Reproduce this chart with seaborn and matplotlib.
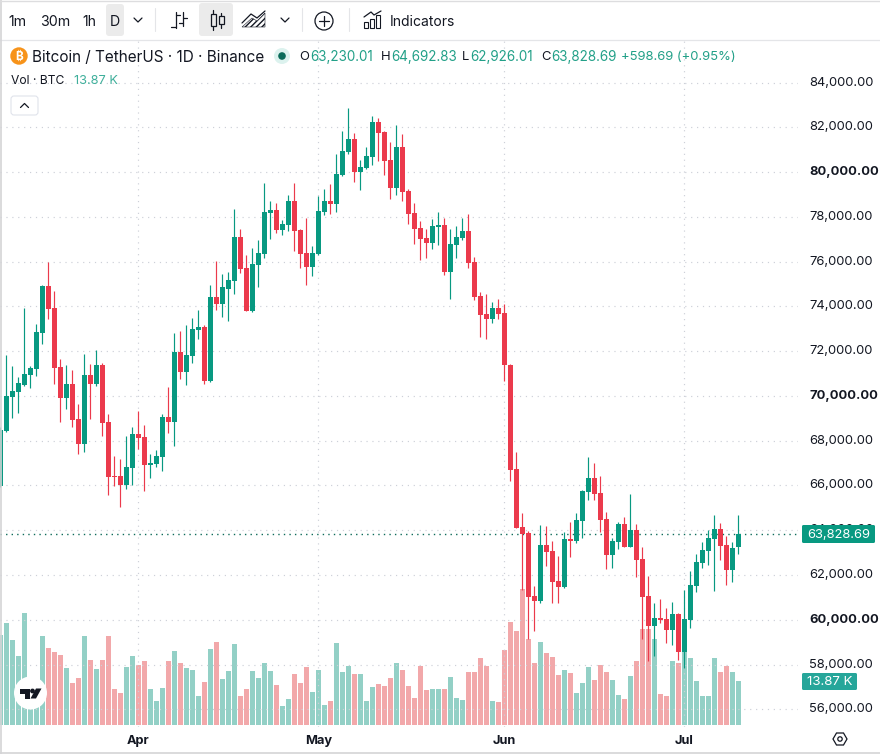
import pandas as pd
import seaborn as sns
import matplotlib.pyplot as plt
from matplotlib.patches import Circle, FancyBboxPatch, Polygon, Rectangle

UP = "#089981"
DOWN = "#EB3A4C"
VOL_UP = "#29A38F"
VOL_DOWN = "#E75357"
TEXT = "#131722"
SOFT_GREEN = "#22A088"

opens = [
    65990, 68430, 69940, 70170, 70510, 70930, 71190, 72800, 74900, 73920,
    71280, 69900, 70520, 68960, 67850, 70930, 70520, 71370, 68830, 66420,
    66420, 66020, 66780, 68290, 68160, 66910, 66950, 67270, 69050, 68830,
    71950, 71060, 71770, 72940, 73060, 70690, 74440, 74090, 74800, 75140,
    77110, 75720, 73800, 75860, 76350, 78180, 78310, 77420, 77640, 78710,
    77420, 76390, 75770, 76350, 78220, 78710, 78580, 79870, 80900, 81480,
    80010, 80190, 80680, 82240, 81790, 80540, 79290, 81120, 79160, 78180,
    77510, 77060, 76840, 77550, 77640, 75540, 76750, 77060, 77370, 75990,
    74470, 73670, 73440, 73940, 73710, 71380, 66740, 64150, 63880, 61070,
    60850, 63350, 63080, 61740, 61470, 63620, 63530, 64420, 65710, 66340,
    65670, 64510, 62900, 63480, 64290, 63260, 64020, 62720, 61070, 59740,
    60100, 60050, 59560, 60270, 58580, 60010, 61520, 62550, 63090, 63620,
    64070, 63350, 62240, 63230.01,
]
closes = [
    68470, 69990, 70210, 70570, 70970, 71240, 72850, 74900, 73870, 71240,
    69900, 70520, 68920, 67850, 70930, 70520, 71370, 68780, 66370, 66370,
    66020, 66820, 68290, 68110, 66910, 67000, 67310, 69050, 68830, 71950,
    71060, 71820, 72980, 73070, 70690, 74440, 74090, 74850, 75160, 77110,
    75680, 73800, 75900, 76390, 78220, 78310, 77420, 77690, 78710, 77370,
    76350, 75770, 76390, 78270, 78710, 78580, 79920, 80940, 81480, 80010,
    80230, 80720, 82240, 81750, 80500, 79290, 81120, 79110, 78130, 77460,
    77020, 76840, 77600, 77640, 75540, 76790, 77110, 77370, 75940, 74430,
    73620, 73440, 73940, 73670, 71390, 66700, 64110, 63840, 61030, 60850,
    63350, 63040, 61700, 61470, 63620, 63530, 64470, 65760, 66340, 65630,
    64470, 62900, 63530, 64290, 63260, 64020, 62680, 61030, 59730, 60100,
    60010, 59560, 60270, 58580, 60050, 61570, 62600, 63130, 63670, 64070,
    63310, 62240, 63220, 63828.69,
]
highs = [
    68600, 71820, 71340, 70840, 73920, 71330, 73200, 74940, 76000, 74680,
    71640, 71370, 71150, 69630, 71860, 71420, 72040, 71460, 69190, 67310,
    67180, 68200, 68610, 69320, 68690, 67400, 67580, 69190, 70390, 72800,
    72890, 73160, 73470, 73830, 73150, 74940, 76050, 75430, 75560, 78360,
    77460, 76300, 76610, 76970, 79520, 78710, 78620, 77860, 78980, 79520,
    77460, 77950, 76700, 78940, 79250, 79470, 80810, 81840, 82860, 81750,
    80540, 81120, 82510, 82420, 81840, 81350, 82100, 81700, 79250, 78620,
    77820, 77460, 77910, 78220, 77950, 77460, 77600, 77950, 78130, 76210,
    74650, 74560, 74200, 74340, 74110, 71430, 67500, 64780, 63970, 61520,
    64240, 64200, 63530, 62860, 63930, 64380, 64780, 65800, 67280, 67010,
    66430, 64820, 63660, 64380, 64600, 65630, 64290, 63260, 61970, 60770,
    60940, 60540, 60810, 60290, 61350, 62190, 62950, 63490, 64020, 64690,
    64340, 63760, 63490, 64692.83,
]
lows = [
    65950, 68400, 69010, 69230, 70440, 70350, 70880, 72310, 73430, 70520,
    68830, 69410, 68610, 67400, 67500, 68960, 70440, 68200, 65570, 65970,
    65030, 65840, 66020, 67620, 65750, 66330, 66820, 66640, 68340, 67760,
    70750, 70480, 71460, 72530, 70550, 70620, 73820, 73550, 73330, 74560,
    75500, 73780, 73760, 74870, 76170, 77020, 77280, 77190, 77370, 76480,
    75720, 74960, 75360, 76300, 78090, 78130, 78220, 79830, 80810, 79560,
    79200, 80150, 80320, 80500, 79870, 78800, 78980, 78710, 77690, 76790,
    76080, 76170, 76570, 76750, 75410, 74340, 76170, 76970, 75720, 74290,
    72640, 72550, 73270, 73440, 70670, 66210, 64080, 61340, 59140, 59510,
    60760, 62410, 60760, 60760, 61440, 62810, 63440, 63660, 65360, 65360,
    63930, 62280, 62320, 63170, 63240, 63240, 61920, 59160, 58150, 58360,
    59870, 58940, 58890, 58220, 57860, 59610, 61260, 62330, 62460, 61300,
    62690, 61570, 61700, 62926.01,
]
volumes = [
    28.6, 32.4, 27.0, 21.9, 35.5, 13.2, 11.1, 28.2, 24.4, 23.2,
    22.2, 18.1, 13.3, 14.9, 28.2, 20.6, 17.8, 20.6, 28.2, 11.4,
    10.2, 18.4, 21.9, 19.0, 20.3, 11.4, 7.6, 11.7, 20.3, 23.5,
    19.7, 18.1, 17.5, 9.2, 13.6, 24.1, 26.3, 14.6, 17.1, 25.7,
    9.2, 11.4, 17.1, 14.9, 19.7, 17.1, 12.7, 6.0, 8.3, 16.2,
    13.3, 18.4, 10.5, 17.5, 6.3, 7.6, 26.0, 16.8, 18.7, 16.2,
    16.2, 7.6, 12.1, 13.0, 12.4, 14.9, 19.7, 17.4, 12.3, 8.5,
    18.6, 11.0, 11.3, 11.3, 11.3, 15.1, 8.5, 7.8, 16.7, 16.7,
    21.2, 18.6, 7.5, 7.2, 23.7, 32.6, 29.7, 43.1, 27.4, 19.6,
    26.2, 22.7, 21.5, 15.8, 17.4, 16.4, 10.1, 13.2, 18.3, 14.2,
    18.9, 16.7, 14.2, 9.4, 8.1, 15.4, 20.2, 30.4, 30.4, 27.2,
    9.7, 9.1, 20.2, 19.6, 23.1, 21.2, 13.9, 9.1, 9.1, 21.2,
    16.7, 18.6, 16.7, 13.87,
]

price_ticks = list(range(56000, 86000, 2000))
bold_prices = [60000, 70000, 80000]
month_ticks = [23, 53, 84, 114]
month_labels = ["Apr", "May", "Jun", "Jul"]

sns.set_theme(style="white")
plt.rcParams["font.family"] = ["Inter", "DejaVu Sans"]
plt.rcParams["ytick.alignment"] = "center"

df = pd.DataFrame({"i": range(len(opens)), "open": opens, "close": closes,
                   "high": highs, "low": lows, "volume": volumes})
df["side"] = ["up" if c >= o else "down" for o, c in zip(df["open"], df["close"])]
df["base"] = df[["open", "close"]].min(axis=1)
df["body"] = (df["close"] - df["open"]).abs()

W, H = 880, 754
fig = plt.figure(figsize=(W / 100, H / 100), dpi=100)
rect = [0, (H - 727) / H, 798 / W, 687 / H]

vol_ax = fig.add_axes(rect, zorder=1)
ax = fig.add_axes(rect, zorder=2)
ax.patch.set_visible(False)

# volume pane sits behind the candles on its own scale
sns.barplot(data=df, x="i", y="volume", hue="side", palette={"up": VOL_UP, "down": VOL_DOWN},
            native_scale=True, dodge=False, width=0.84, saturation=1, alpha=0.5,
            linewidth=0, legend=False, ax=vol_ax, errorbar=None, orient="x")
vol_ax.set_xlim(-0.05, 132.95)
vol_ax.set_ylim(-0.63, 217.4)
vol_ax.axis("off")

for side, color in [("up", UP), ("down", DOWN)]:
    sub = df[df["side"] == side]
    ax.vlines(sub["i"], sub["low"], sub["high"], color=color, linewidth=0.85, zorder=3)
    sns.barplot(data=sub, x="i", y="body", bottom=sub["base"].values, color=color,
                native_scale=True, width=0.84, saturation=1, linewidth=0,
                ax=ax, errorbar=None, orient="x", zorder=4)

ax.set_xlim(-0.05, 132.95)
ax.set_ylim(55209, 85904)
ax.set_xlabel("")
ax.set_ylabel("")
ax.yaxis.tick_right()
ax.set_yticks(price_ticks)
ax.set_yticklabels([f"{p:,.2f}" for p in price_ticks], fontsize=9.3, color=TEXT)
for label_, p in zip(ax.get_yticklabels(), price_ticks):
    if p in bold_prices:
        label_.set_fontweight("bold")
ax.set_xticks(month_ticks)
ax.set_xticklabels(month_labels, fontsize=9.2, color=TEXT, fontweight="bold")
ax.tick_params(axis="y", length=0, pad=8)
ax.tick_params(axis="x", length=0, pad=6)
ax.grid(True, color="#CDD0D8", linewidth=0.85, linestyle=(0, (1, 4)))
ax.set_axisbelow(True)
for spine in ax.spines.values():
    spine.set_visible(False)
ax.axhline(closes[-1], color="#0E6B5A", linewidth=1.0, linestyle=(0, (1, 3)), zorder=2)

# toolbar, legend and price tags, in pixel coordinates
ui = fig.add_axes([0, 0, 1, 1], zorder=5)
ui.set_xlim(0, W)
ui.set_ylim(H, 0)
ui.axis("off")


def label(x, y, s, color=TEXT, size=9.4, **kw):
    ui.text(x, y, s, color=color, fontsize=size, va="center", ha=kw.pop("ha", "left"), **kw)


def stroke(xs, ys, color=TEXT, lw=0.9):
    ui.plot(xs, ys, color=color, linewidth=lw, solid_capstyle="round")


def chevron(x, y, up=False, color=TEXT):
    d = -2 if up else 2
    stroke([x - 4, x, x + 4], [y - d, y + d, y - d], color=color, lw=0.9)


def box(x0, y0, x1, y1, face, edge="none", r=3):
    ui.add_patch(FancyBboxPatch((x0 + r, y0 + r), x1 - x0 - 2 * r, y1 - y0 - 2 * r,
                                boxstyle=f"round,pad={r},rounding_size={r}",
                                facecolor=face, edgecolor=edge, linewidth=0.8))


ui.add_patch(Rectangle((0, 0), W, 39, facecolor="white", edgecolor="none"))
stroke([0, W], [39.5, 39.5], color="#E4E5E8", lw=0.9)
stroke([0.5, 0.5], [0, H], color="#D4D4D6", lw=1.2)
stroke([0, W], [0.5, 0.5], color="#DDDDDF", lw=1.0)
stroke([0, W], [752.7, 752.7], color="#D4D4D6", lw=1.2)

box(106, 4, 124, 36, "#EBEBEB")
box(199, 3, 233, 36, "#EBEBEB")
label(8, 22, "1m", size=10.2)
label(40, 22, "30m", size=10.2)
label(82, 22, "1h", size=10.2)
label(110, 22, "D", size=10.2)
chevron(138, 20)
chevron(285, 20)
for sx in (154.5, 302, 349):
    stroke([sx, sx], [8, 31], color="#E4E5E8", lw=0.8)

# bar style icon
stroke([176, 176], [12, 28])
stroke([171, 176], [27, 27])
stroke([176, 180], [15, 15])
stroke([183, 183], [12, 26])
stroke([183, 187], [18, 18])
stroke([179, 183], [23, 23])
# candle style icon
for cx, top, bottom, lo, hi in [(213, 14, 26, 10, 30), (221, 16, 24, 13, 28)]:
    stroke([cx, cx], [lo, hi])
    ui.add_patch(Rectangle((cx - 2.5, top), 5, bottom - top, facecolor="#EBEBEB",
                           edgecolor=TEXT, linewidth=0.9, zorder=3))
# area style icon
ui.add_patch(Polygon([(242, 27), (252, 18), (257, 21), (265, 13), (265, 27)],
                     facecolor="white", edgecolor=TEXT, hatch="//////", linewidth=0.4))
stroke([242, 251, 257, 265], [23, 14, 18, 11])
# add indicator icon
ui.add_patch(Circle((324, 21), 9, facecolor="none", edgecolor=TEXT, linewidth=0.9))
stroke([324, 324], [16, 26])
stroke([319, 329], [21, 21])
# indicators icon
for bx, top in [(365, 22), (371, 19), (377, 15)]:
    ui.add_patch(Rectangle((bx - 1.5, top), 4.5, 28 - top, facecolor="none",
                           edgecolor=TEXT, linewidth=0.8))
stroke([364, 371, 374, 381], [17, 12, 15, 11])
label(390, 22, "Indicators", size=10)

ui.add_patch(Circle((19, 56), 8.7, facecolor="#F7931A", edgecolor="none"))
label(19, 56.5, "₿", color="white", size=8.5, ha="center", fontweight="bold")
label(32, 57, "Bitcoin / TetherUS · 1D · Binance", size=11)
ui.add_patch(Circle((282, 56), 8, facecolor="#DCF2EE", edgecolor="none"))
ui.add_patch(Circle((282, 56), 3.8, facecolor="#0B6B5A", edgecolor="none"))
label(299, 57.5, "O", size=9.4)
label(310, 57.5, "63,230.01", color=SOFT_GREEN, size=9.7)
label(381, 57.5, "H", size=9.4)
label(391, 57.5, "64,692.83", color=SOFT_GREEN, size=9.7)
label(462, 57.5, "L", size=9.4)
label(470, 57.5, "62,926.01", color=SOFT_GREEN, size=9.7)
label(541, 57.5, "C", size=9.4)
label(551, 57.5, "63,828.69", color=SOFT_GREEN, size=9.7)
label(621, 57.5, "+598.69 (+0.95%)", color=SOFT_GREEN, size=9.4)
label(11, 81, "Vol · BTC", size=8.7)
label(74, 81, "13.87 K", color="#3FAF9B", size=9.2)
box(11, 96, 38, 115, "white", edge="#E0E3EB")
chevron(24.5, 105.5, up=True)

box(802, 525, 875, 543, "#089981", r=1.5)
label(838.5, 534.5, "63,828.69", color="white", size=9.3, ha="center")
box(802, 673, 857, 690, "#26A69A", r=1.5)
label(829.5, 682, "13.87 K", color="white", size=9.6, ha="center")

# corner logo
ui.add_patch(Circle((30.5, 693), 16.5, facecolor="white", edgecolor="none"))
ui.add_patch(Polygon([(20, 688.5), (30, 688.5), (30, 698.5), (25, 698.5), (25, 693.5), (20, 693.5)],
                     facecolor="#131722", edgecolor="none"))
ui.add_patch(Circle((32.5, 691), 2.4, facecolor="#131722", edgecolor="none"))
ui.add_patch(Polygon([(36, 688.5), (41.5, 688.5), (36, 698.5), (30.5, 698.5)],
                     facecolor="#131722", edgecolor="none"))

# settings hexagon
ui.add_patch(Polygon([(833, 739), (836.5, 733), (843.5, 733), (847, 739), (843.5, 745), (836.5, 745)],
                     facecolor="none", edgecolor=TEXT, linewidth=0.9))
ui.add_patch(Circle((840, 739), 2.2, facecolor="none", edgecolor=TEXT, linewidth=0.9))

fig.savefig("out.png", dpi=100)
